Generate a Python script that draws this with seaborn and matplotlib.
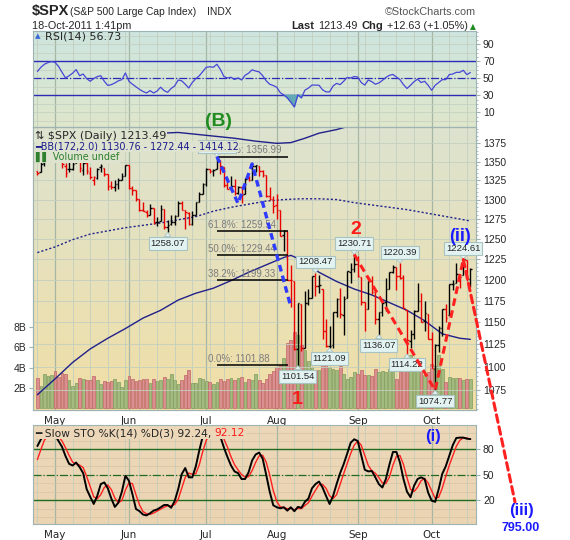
import numpy as np
import matplotlib
matplotlib.use('Agg')
import matplotlib.pyplot as plt
import matplotlib.colors as mcolors
from matplotlib.ticker import FixedLocator, NullFormatter
import seaborn as sns

sns.set_style('white')
plt.rcParams['font.family'] = ['DejaVu Sans']

# daily bars, 25-Apr-2011 .. 18-Oct-2011 (trading-day index 0..123)
opens = [1337.1, 1336.8, 1348.4, 1353.9, 1360.1, 1365.2, 1359.8, 1355.9, 1344.2, 1340.2,
         1340.2, 1348.3, 1354.5, 1339.4, 1348.7, 1334.8, 1326.1, 1328.5, 1342.4, 1342.0,
         1333.1, 1317.7, 1316.4, 1320.6, 1325.7, 1331.1, 1345.2, 1314.5, 1312.9, 1300.3,
         1286.3, 1284.6, 1279.6, 1288.6, 1271.3, 1272.2, 1287.9, 1265.5, 1268.6, 1271.5,
         1278.4, 1295.5, 1286.6, 1283.0, 1268.4, 1280.2, 1296.9, 1307.6, 1320.6, 1339.6,
         1337.6, 1339.6, 1352.4, 1343.3, 1319.6, 1314.5, 1317.7, 1308.9, 1315.9, 1307.1,
         1328.7, 1325.6, 1343.8, 1344.3, 1337.4, 1331.9, 1304.8, 1300.1, 1292.6, 1286.6,
         1254.3, 1260.2, 1200.3, 1198.5, 1120.2, 1171.8, 1121.3, 1172.9, 1178.9, 1204.2,
         1193.0, 1189.6, 1140.5, 1123.6, 1124.4, 1162.2, 1176.7, 1158.9, 1177.9, 1209.8,
         1213.0, 1219.1, 1203.9, 1173.97, 1165.9, 1198.0, 1185.4, 1153.5, 1162.6, 1173.3,
         1189.4, 1209.2, 1215.0, 1204.5, 1203.6, 1164.6, 1128.8, 1136.9, 1163.3, 1175.4,
         1151.7, 1159.9, 1131.2, 1097.4, 1124.0, 1144.1, 1165.0, 1158.2, 1194.6, 1196.2,
         1207.0, 1205.7, 1224.5, 1200.8]
highs = [1337.6, 1349.6, 1357.5, 1361.7, 1364.6, 1370.6, 1360.8, 1355.9, 1348.0, 1354.4,
         1349.4, 1359.4, 1354.5, 1351.1, 1350.5, 1343.3, 1330.4, 1341.8, 1346.8, 1342.0,
         1333.1, 1323.7, 1325.9, 1328.5, 1334.6, 1345.2, 1345.2, 1318.0, 1312.9, 1300.3,
         1296.2, 1287.0, 1294.5, 1288.6, 1277.0, 1292.5, 1287.9, 1274.1, 1279.8, 1280.4,
         1297.6, 1298.6, 1286.6, 1283.9, 1284.9, 1296.8, 1309.2, 1322.0, 1341.0, 1340.9,
         1340.9, 1356.48, 1352.4, 1343.3, 1327.2, 1331.5, 1326.9, 1317.7, 1315.9, 1328.1,
         1330.4, 1347.0, 1346.1, 1344.3, 1338.5, 1331.9, 1316.3, 1304.2, 1307.4, 1286.6,
         1261.2, 1260.2, 1218.1, 1198.5, 1172.9, 1171.8, 1186.3, 1189.0, 1204.5, 1208.47,
         1206.1, 1189.6, 1154.5, 1145.5, 1162.4, 1178.6, 1190.7, 1181.2, 1210.1, 1220.1,
         1230.71, 1229.3, 1203.9, 1173.97, 1198.6, 1204.4, 1185.4, 1162.5, 1176.4, 1202.4,
         1209.1, 1218.0, 1215.0, 1220.39, 1206.3, 1164.6, 1141.7, 1164.2, 1195.9, 1184.7,
         1175.1, 1159.9, 1139.0, 1125.1, 1146.1, 1165.6, 1171.4, 1194.9, 1199.2, 1220.3,
         1207.5, 1224.61, 1224.5, 1214.6]
lows = [1331.7, 1336.8, 1344.3, 1353.6, 1358.7, 1358.6, 1349.5, 1341.5, 1329.2, 1336.4,
        1338.6, 1348.3, 1336.4, 1332.0, 1333.4, 1327.3, 1318.5, 1326.6, 1336.9, 1330.7,
        1312.6, 1313.9, 1311.8, 1314.4, 1325.7, 1331.1, 1313.7, 1305.6, 1297.9, 1284.9,
        1284.7, 1277.4, 1279.6, 1268.3, 1265.6, 1272.2, 1261.9, 1258.07, 1267.4, 1267.6,
        1278.4, 1286.8, 1262.9, 1267.2, 1267.5, 1280.2, 1296.9, 1307.6, 1318.2, 1334.3,
        1330.9, 1339.6, 1333.7, 1316.4, 1313.3, 1314.5, 1306.5, 1307.2, 1295.9, 1307.1,
        1323.7, 1325.6, 1336.9, 1331.1, 1329.6, 1303.5, 1299.2, 1282.9, 1274.7, 1254.0,
        1234.6, 1199.5, 1168.1, 1119.3, 1101.54, 1118.0, 1121.3, 1170.7, 1178.9, 1180.4,
        1184.5, 1131.0, 1122.1, 1121.09, 1121.6, 1156.3, 1155.1, 1135.9, 1177.9, 1195.8,
        1209.4, 1203.9, 1170.6, 1140.1, 1165.9, 1183.3, 1148.4, 1136.07, 1157.4, 1162.7,
        1189.4, 1207.8, 1188.4, 1201.3, 1166.4, 1114.22, 1121.4, 1131.1, 1163.3, 1150.4,
        1139.9, 1131.3, 1098.9, 1074.77, 1116.1, 1135.0, 1150.3, 1158.2, 1187.3, 1196.2,
        1190.6, 1205.7, 1198.6, 1191.5]
closes = [1335.25, 1347.24, 1355.66, 1360.48, 1363.61, 1361.22, 1356.62, 1347.32, 1335.10, 1340.20,
          1346.29, 1357.16, 1342.08, 1348.65, 1337.77, 1329.47, 1328.98, 1340.68, 1343.60, 1333.27,
          1317.37, 1316.28, 1320.47, 1325.69, 1331.10, 1345.20, 1314.55, 1312.94, 1300.16, 1286.17,
          1284.94, 1279.56, 1289.00, 1270.98, 1271.83, 1287.87, 1265.42, 1267.64, 1271.50, 1278.36,
          1295.52, 1287.14, 1283.50, 1268.45, 1280.10, 1296.67, 1307.41, 1320.64, 1339.67, 1337.88,
          1339.22, 1353.22, 1343.80, 1319.49, 1313.64, 1317.72, 1308.87, 1316.14, 1305.44, 1326.73,
          1325.84, 1343.80, 1345.02, 1337.43, 1331.94, 1304.89, 1300.67, 1292.28, 1286.94, 1254.05,
          1260.34, 1200.07, 1199.38, 1119.46, 1172.53, 1120.76, 1172.64, 1178.81, 1204.49, 1192.76,
          1193.89, 1140.65, 1123.53, 1123.82, 1162.35, 1177.60, 1159.27, 1176.80, 1210.08, 1212.92,
          1218.89, 1204.42, 1173.97, 1165.24, 1198.62, 1185.90, 1154.23, 1162.27, 1172.87, 1188.68,
          1209.11, 1216.01, 1204.09, 1202.09, 1166.76, 1129.56, 1136.43, 1162.95, 1175.38, 1151.06,
          1160.40, 1131.42, 1099.23, 1123.95, 1144.03, 1164.97, 1155.46, 1194.89, 1195.54, 1207.25,
          1203.66, 1224.58, 1200.86, 1213.49]
volume_b = [3.0, 2.2, 3.4, 3.2, 3.3, 3.7, 3.1, 3.5, 3.4, 2.8,
            2.2, 2.5, 3.0, 2.9, 2.8, 2.8, 3.2, 2.8, 2.4, 2.7,
            2.6, 2.7, 2.9, 2.6, 2.1, 2.8, 3.2, 2.9, 2.7, 2.8,
            2.9, 2.9, 2.5, 2.9, 2.7, 2.8, 3.1, 2.9, 3.4, 2.8,
            2.4, 2.8, 3.3, 3.8, 2.5, 2.5, 3.0, 2.9, 2.7, 2.6,
            2.4, 2.6, 2.9, 2.7, 2.9, 3.0, 2.8, 3.0, 3.1, 2.6,
            2.9, 2.8, 3.4, 2.8, 2.5, 2.9, 3.4, 3.7, 4.1, 4.3,
            4.9, 6.4, 6.7, 7.5, 7.2, 6.2, 5.7, 4.7, 4.1, 3.8,
            3.8, 4.9, 4.4, 4.1, 3.9, 3.8, 4.2, 3.4, 2.9, 3.1,
            3.6, 3.4, 3.8, 3.3, 3.3, 3.2, 3.9, 3.6, 3.7, 3.6,
            3.9, 3.7, 2.9, 3.6, 3.9, 4.6, 5.2, 4.7, 4.9, 3.8,
            3.3, 3.6, 4.4, 4.2, 5.2, 3.9, 2.6, 3.1, 3.0, 3.0,
            3.0, 2.8, 2.9, 2.9]
rsi14 = [58, 63, 66.5, 68.5, 69.6, 68.8, 64, 57, 50.4, 53,
         56, 60.2, 53, 55, 49.6, 46.5, 49.6, 52, 53, 46.5,
         41.6, 42.5, 44.5, 47, 48.4, 56.3, 46.5, 43, 40, 37,
         34.5, 32.7, 35.5, 32.7, 35, 39.5, 35.5, 33.5, 38, 41,
         48, 47, 43, 38.6, 45, 49.5, 53, 58, 63, 63.5,
         63, 66.5, 60.2, 52, 50.4, 51.2, 48.5, 50.4, 48, 53.5,
         56, 60, 58.5, 57.5, 53, 47, 43, 41.5, 39.4, 33,
         30.5, 27, 22, 16.3, 30.5, 27, 36, 38.5, 42, 42,
         41.8, 36.5, 34, 34, 41, 44, 42.5, 46.5, 51, 50.4,
         52, 51.5, 45, 42, 48, 46, 43, 44.5, 47.5, 51,
         53.5, 54.5, 51.5, 48.4, 42.5, 38, 41.8, 46, 49, 45,
         46.5, 41.8, 35.9, 41.8, 45, 48.4, 48.4, 54.3, 55, 57,
         57, 59.4, 54.3, 56.73]
sto_k = [84, 92, 97, 98, 98, 97, 90, 83, 72, 63,
         61, 64.5, 59, 52, 33, 24, 15.5, 25, 39, 41,
         34, 22, 12, 17, 30, 48.8, 43, 27, 9.6, 7,
         3, 2, 4.5, 7.6, 9, 11.5, 14.3, 14.3, 11, 19,
         33, 50.8, 58, 47, 47, 60, 79, 96, 99, 99,
         99, 100, 95, 82, 71, 61, 54, 52, 45, 45,
         53, 67, 74, 76.3, 69, 50, 30, 14, 11.6, 10.4,
         11.6, 7.6, 11.6, 6.9, 12, 11, 18, 22, 34, 39,
         42, 35, 25, 15.5, 25, 39, 52, 62.5, 75, 88,
         92, 90, 73, 56, 54, 54.5, 47, 39, 35, 45,
         62, 77, 77, 64.5, 45, 30, 23.5, 37, 45, 47,
         45, 29, 19.4, 18, 33, 51, 60, 72.4, 85, 93.5,
         94, 94, 92.7, 92.24]
sto_d = [68, 80, 91, 96, 97.5, 97.5, 95, 90, 82, 73,
         65, 63, 61.5, 58.5, 48, 36, 24, 21.5, 26.5, 35,
         38, 32.5, 22.5, 17, 19.5, 32, 40.5, 39.5, 26.5, 14.5,
         6.5, 4, 3.2, 4.7, 7, 9.4, 11.6, 13.4, 13.2, 14.8,
         21, 34, 47, 52, 50.7, 51.3, 62, 78, 91, 98,
         99, 99.3, 98, 92.3, 82.7, 71.3, 62, 55.7, 50.3, 47.3,
         47.7, 55, 64.7, 72.4, 73.1, 65, 49.7, 31.3, 18.5, 12,
         11.2, 9.9, 10.3, 8.7, 10.2, 10, 13.7, 17, 24.7, 31.7,
         38.3, 38.7, 34, 25.2, 21.8, 26.5, 38.7, 51.2, 63.2, 75.2,
         85, 90, 85, 73, 61, 54.8, 51.8, 46.8, 40.3, 39.7,
         47.3, 61.3, 72, 72.8, 62.2, 46.5, 32.8, 30.2, 35.2, 43,
         45.7, 40.3, 31.1, 22.1, 23.5, 34, 48, 61.1, 72.5, 83.6,
         90.8, 93.8, 93.6, 92.12]

month_names = ['May', 'Jun', 'Jul', 'Aug', 'Sep', 'Oct']
month_start = [5, 26, 48, 68, 91, 112]
week_start = [0, 5, 10, 15, 20, 25, 29, 34, 39, 44, 49, 53, 58, 63, 68, 73, 78, 83,
              88, 93, 97, 102, 107, 112, 117, 122]

# Bollinger bands (172, 2.0), read at a few days
bb_up_day = [0, 10, 20, 30, 40, 50, 56, 62, 68, 72, 76, 80, 85, 90, 100, 110, 123]
bb_up = [1390, 1389, 1388, 1388, 1390, 1385, 1382, 1378, 1375, 1376, 1382, 1389, 1394, 1401, 1412, 1418, 1414.12]
bb_mid_day = [0, 5, 10, 15, 20, 25, 30, 35, 40, 45, 50, 55, 60, 65, 70, 75, 80, 85, 90, 95, 100, 105, 110, 115, 120, 123]
bb_mid = [1233, 1240, 1249, 1256, 1260, 1264, 1267, 1270, 1274, 1278, 1285, 1290, 1294, 1298, 1300, 1301,
          1301, 1300, 1296, 1293, 1290, 1287, 1283, 1279, 1275, 1272.44]
bb_low_day = [0, 5, 10, 15, 20, 25, 30, 35, 40, 45, 50, 55, 60, 65, 70, 72, 75, 80, 85, 90, 95, 100, 105, 110, 115, 120, 123]
bb_low = [1070, 1087, 1105, 1120, 1132, 1143, 1155, 1164, 1176, 1184, 1190, 1199, 1209, 1218, 1227, 1229.6,
          1224, 1209, 1198, 1189, 1182, 1173, 1164, 1152, 1137, 1132, 1130.76]

fib_pct = ['100.0%', '61.8%', '50.0%', '38.2%', '0.0%']
fib_val = [1356.99, 1259.54, 1229.44, 1199.33, 1101.88]
fib_from, fib_to = 51, 71.3

tag_day = [37, 51, 74, 79, 83, 90, 97, 103, 105, 113, 121]
tag_val = [1258.07, 1356.48, 1101.54, 1208.47, 1121.09, 1230.71, 1136.07, 1220.39, 1114.22, 1074.77, 1224.61]
tag_pos = ['below', 'above', 'below', 'above', 'below', 'above', 'below', 'above', 'below', 'below', 'above']

wave_b_day = [51, 57, 61, 72]
wave_b_val = [1356.99, 1295, 1347, 1168]
wave_r_day = [90, 113, 121]
wave_r_val = [1230.71, 1074.77, 1224.61]

days = np.arange(len(closes))
prev = np.r_[opens[0], closes[:-1]]
up = np.array(closes) >= prev

W, H = 570, 540
fig = plt.figure(figsize=(W / 100, H / 100), dpi=100)


def P(x, y):
    return (x / W, 1 - y / H)


def panel(top, bottom, c_top, c_bot):
    rect = [33 / W, 1 - bottom / H, 443 / W, (bottom - top) / H]
    bg = fig.add_axes(rect, zorder=-5)
    t = np.linspace(0, 1, 64)[:, None]
    img = (np.array(mcolors.to_rgb(c_top)) * (1 - t) + np.array(mcolors.to_rgb(c_bot)) * t)[:, None, :]
    bg.imshow(img, aspect='auto', origin='upper')
    bg.axis('off')
    ax = fig.add_axes(rect)
    ax.set_facecolor('none')
    for s in ax.spines.values():
        s.set_color('#9fb3b3')
        s.set_linewidth(0.8)
    ax.set_xlim(-1.25, 124.6)
    for d in week_start:
        ax.axvline(d, color='#c3cfbf', lw=0.6, zorder=0.5)
    for d in month_start:
        ax.axvline(d, color='#a5b6a5', lw=0.9, zorder=0.5)
    return ax


grid_c = '#c3cfbf'

# ---------------- RSI ----------------
ax_r = panel(31, 127, '#cde5df', '#dfe7cc')
for v in range(0, 101, 10):
    ax_r.axhline(v, color=grid_c, lw=0.5, zorder=0.5)
ax_r.axhline(70, color='#2b2bb8', lw=1.0)
ax_r.axhline(30, color='#2b2bb8', lw=1.0)
ax_r.axhline(50, color='#2b2bb8', lw=0.9, ls='-.')
r = np.array(rsi14)
ax_r.fill_between(days, r, 30, where=r < 30, interpolate=True, color='#62a9b5', zorder=2)
sns.lineplot(x=days, y=rsi14, ax=ax_r, color='#4646d6', lw=0.9, zorder=3)
ax_r.set_ylim(-7.3, 105.6)
ax_r.set_xticks([])
ax_r.yaxis.tick_right()
ax_r.set_yticks([10, 30, 50, 70, 90])
ax_r.yaxis.set_minor_locator(FixedLocator(range(0, 106, 5)))
ax_r.tick_params(axis='y', which='major', length=3, pad=2, color='#9fb3b3', labelsize=7.5)
ax_r.tick_params(axis='y', which='minor', length=1.5, color='#9fb3b3')
ax_r.set_xlabel('')
ax_r.set_ylabel('')
fig.text(*P(35, 36.5), '\u25b4', fontsize=8, color='#3a6ad8', va='center')
fig.text(*P(45, 36.5), 'RSI(14) 56.73', fontsize=8, va='center')

# ---------------- price + volume ----------------
ax_v = panel(127, 410, '#dde3cf', '#f1dfa6')
ax_p = ax_v.twinx()
ax_p.set_facecolor('none')
for s in ax_p.spines.values():
    s.set_color('#9fb3b3')
    s.set_linewidth(0.8)

vcol = np.where(up, '#a3bb80', '#da9090')
vedge = np.where(up, '#7f9c5c', '#c06464')
ax_v.bar(days, volume_b, width=0.8, color=vcol, edgecolor=vedge, lw=0.5, zorder=1)
ax_v.set_ylim(-0.15, 27.6)
ax_v.set_yticks([2, 4, 6, 8], labels=['2B', '4B', '6B', '8B'])
ax_v.set_xticks(month_start, labels=month_names)
ax_v.set_xticks(days, minor=True)
ax_v.tick_params(axis='y', length=3, pad=2, color='#9fb3b3', labelsize=7.5)
ax_v.tick_params(axis='x', which='major', length=2, pad=2.5, color='#9fb3b3', labelsize=7.5)
ax_v.tick_params(axis='x', which='minor', length=1.5, color='#9fb3b3')

ax_p.set_yscale('log')
ax_p.set_ylim(1053.8, 1397.6)
ax_p.set_xlim(-1.25, 124.6)
price_ticks = list(range(1075, 1376, 25))
for v in price_ticks:
    ax_p.axhline(v, color=grid_c, lw=0.6, zorder=0.5)
ax_p.yaxis.set_major_locator(FixedLocator(price_ticks))
ax_p.set_yticklabels([str(v) for v in price_ticks])
ax_p.yaxis.set_minor_locator(FixedLocator(range(1055, 1400, 5)))
ax_p.yaxis.set_minor_formatter(NullFormatter())
ax_p.tick_params(axis='y', which='major', length=3, pad=2, color='#9fb3b3', labelsize=7.5)
ax_p.tick_params(axis='y', which='minor', length=1.5, color='#9fb3b3')

# Bollinger bands
sns.lineplot(x=bb_up_day, y=bb_up, ax=ax_p, color='#20208a', lw=1.0, zorder=2)
sns.lineplot(x=bb_mid_day, y=bb_mid, ax=ax_p, color='#20208a', lw=1.0, ls=(0, (1.5, 1.5)), zorder=2)
sns.lineplot(x=bb_low_day, y=bb_low, ax=ax_p, color='#20208a', lw=1.0, zorder=2)

# OHLC bars
bar_c = np.where(up, 'black', '#e80000')
ax_p.vlines(days, lows, highs, colors=bar_c, lw=1.0, zorder=3)
ax_p.hlines(opens, days - 0.45, days, colors=bar_c, lw=1.0, zorder=3)
ax_p.hlines(closes, days, days + 0.45, colors=bar_c, lw=1.0, zorder=3)

# Fibonacci retracement
ax_p.hlines(fib_val, fib_from, fib_to, colors='black', lw=1.1, zorder=4)
for pct, v in zip(fib_pct, fib_val):
    ax_p.text(fib_from - 2.6, v * 1.0015, f'{pct}: {v:.2f}', fontsize=7, color='#7c7c7c',
              family='Liberation Sans', va='bottom', zorder=4)

# price tags
for d, v, pos in zip(tag_day, tag_val, tag_pos):
    above = pos == 'above'
    ax_p.annotate(f'{v:.2f}', xy=(d, v), xytext=(0, 4.5 if above else -4.5), textcoords='offset points',
                  ha='center', va='bottom' if above else 'top', fontsize=6.8, family='Liberation Sans',
                  bbox=dict(boxstyle='square,pad=0.2', fc='#e2f3f1', ec='#a9c2c2', lw=0.8),
                  arrowprops=dict(arrowstyle='wedge,tail_width=0.7', fc='#e2f3f1', ec='#a9c2c2', lw=0.6,
                                  shrinkA=0, shrinkB=0), zorder=5)

# wave lines
ax_p.plot(wave_b_day, wave_b_val, color='#2f3cff', lw=2.4, ls=(0, (2, 1.3)), zorder=6)
ax_p.plot(wave_r_day, wave_r_val, color='#ff2020', lw=2.2, ls=(0, (2.5, 1.5)), zorder=6)
ax_p.annotate('', xy=P(515, 502), xycoords='figure fraction',
              xytext=(wave_r_day[-1], wave_r_val[-1]), textcoords='data',
              arrowprops=dict(arrowstyle='-', color='#ff2020', lw=2.2, ls=(0, (2.5, 1.5)),
                              shrinkA=0, shrinkB=0), annotation_clip=False, zorder=6)

# legend of price panel
leg_bg = dict(boxstyle='square,pad=0.05', fc='#dde3cf', ec='none')
fig.text(*P(35, 136), '\u21c5 $SPX (Daily) 1213.49', fontsize=8, va='center', bbox=leg_bg, zorder=10)
fig.text(*P(35, 146.5), '\u2501BB(172,2.0) 1130.76 - 1272.44 - 1414.12', fontsize=6.9, va='center',
         color='#1c1c8c', bbox=leg_bg, zorder=10)
fig.text(*P(35, 157), '\u258c\u258c Volume undef', fontsize=6.9, va='center', color='#2f7f2f',
         bbox=leg_bg, zorder=10)

# ---------------- slow stochastic ----------------
ax_s = panel(425, 524, '#ecd8b9', '#ebd4b2')
for v in range(0, 101, 10):
    ax_s.axhline(v, color='#d6c3a6', lw=0.5, zorder=0.5)
ax_s.axhline(80, color='#1f6b1f', lw=1.0)
ax_s.axhline(20, color='#1f6b1f', lw=1.0)
ax_s.axhline(50, color='#1f6b1f', lw=0.9, ls='-.')
sns.lineplot(x=days, y=sto_d, ax=ax_s, color='#ff2020', lw=1.0, zorder=3)
sns.lineplot(x=days, y=sto_k, ax=ax_s, color='black', lw=1.4, zorder=3)
ax_s.set_ylim(-8.2, 108.9)
ax_s.yaxis.tick_right()
ax_s.set_yticks([20, 50, 80])
ax_s.set_xticks(month_start, labels=month_names)
ax_s.set_xticks(days, minor=True)
ax_s.tick_params(axis='y', length=3, pad=2, color='#9fb3b3', labelsize=7.5)
ax_s.tick_params(axis='x', which='major', length=2, pad=2.2, color='#9fb3b3', labelsize=7.5)
ax_s.tick_params(axis='x', which='minor', length=1.5, color='#9fb3b3')
ax_s.set_xlabel('')
ax_s.set_ylabel('')
sto_bg = dict(boxstyle='square,pad=0.05', fc='#ecd8b9', ec='none')
t1 = fig.text(*P(35, 433), '\u2501 Slow STO %K(14) %D(3) 92.24, ', fontsize=7.7, va='center',
              bbox=sto_bg, zorder=10)
fig.canvas.draw()
bb = t1.get_window_extent()
fig.text(bb.x1 / fig.dpi / fig.get_figwidth(), P(0, 433)[1], '92.12', fontsize=7.7, va='center',
         color='#ff1a1a', bbox=sto_bg, zorder=10)

for a in (ax_v, ax_p):
    a.set_xlabel('')
    a.set_ylabel('')
for lab in ax_v.get_yticklabels() + ax_p.get_yticklabels() + ax_r.get_yticklabels() + ax_s.get_yticklabels():
    lab.set_family('Liberation Sans')

# ---------------- header ----------------
fig.text(*P(32, 11.5), '$SPX', fontsize=10.5, fontweight='bold', family='Liberation Sans', va='center')
fig.text(*P(70, 12), '(S&P 500 Large Cap Index)', fontsize=7.4, family='Liberation Sans', va='center')
fig.text(*P(207, 12), 'INDX', fontsize=7.4, family='Liberation Sans', va='center')
fig.text(*P(476, 12), '\u00a9StockCharts.com', fontsize=7.8, family='Liberation Sans', va='center',
         ha='right', color='#555555')
fig.text(*P(32, 26), '18-Oct-2011 1:41pm', fontsize=7.8, family='Liberation Sans', va='center')
fig.text(*P(291, 26), 'Last', fontsize=8, fontweight='bold', family='Liberation Sans', va='center')
fig.text(*P(318, 26), '1213.49', fontsize=7.8, family='Liberation Sans', va='center')
fig.text(*P(362, 26), 'Chg', fontsize=8, fontweight='bold', family='Liberation Sans', va='center')
fig.text(*P(387, 26), '+12.63 (+1.05%)', fontsize=7.8, family='Liberation Sans', va='center')
fig.text(*P(470, 26.5), '\u25b2', fontsize=5.5, color='#1e8c1e', va='center')

# ---------------- wave labels ----------------
fig.text(*P(219, 122), '(B)', fontsize=14, fontweight='bold', color='#1e8c1e', ha='center', va='center',
         family='Liberation Sans', zorder=12)
fig.text(*P(297, 400), '1', fontsize=14, fontweight='bold', color='#ff1a1a', ha='center', va='center',
         family='Liberation Sans', zorder=12)
fig.text(*P(356, 229), '2', fontsize=14, fontweight='bold', color='#ff1a1a', ha='center', va='center',
         family='Liberation Sans', zorder=12)
fig.text(*P(460, 236), '(ii)', fontsize=13, fontweight='bold', color='#1a1aff', ha='center', va='center',
         family='Liberation Sans', zorder=12)
fig.text(*P(433, 436), '(i)', fontsize=12, fontweight='bold', color='#1a1aff', ha='center', va='center',
         family='Liberation Sans', zorder=12)
fig.text(*P(521, 511), '(iii)', fontsize=12, fontweight='bold', color='#1a1aff', ha='center', va='center',
         family='Liberation Sans', zorder=12)
fig.text(*P(521, 528), '795.00', fontsize=9, fontweight='bold', color='#1a1aff', ha='center', va='center',
         family='Liberation Sans', zorder=12)

fig.savefig('out.png', dpi=100)
